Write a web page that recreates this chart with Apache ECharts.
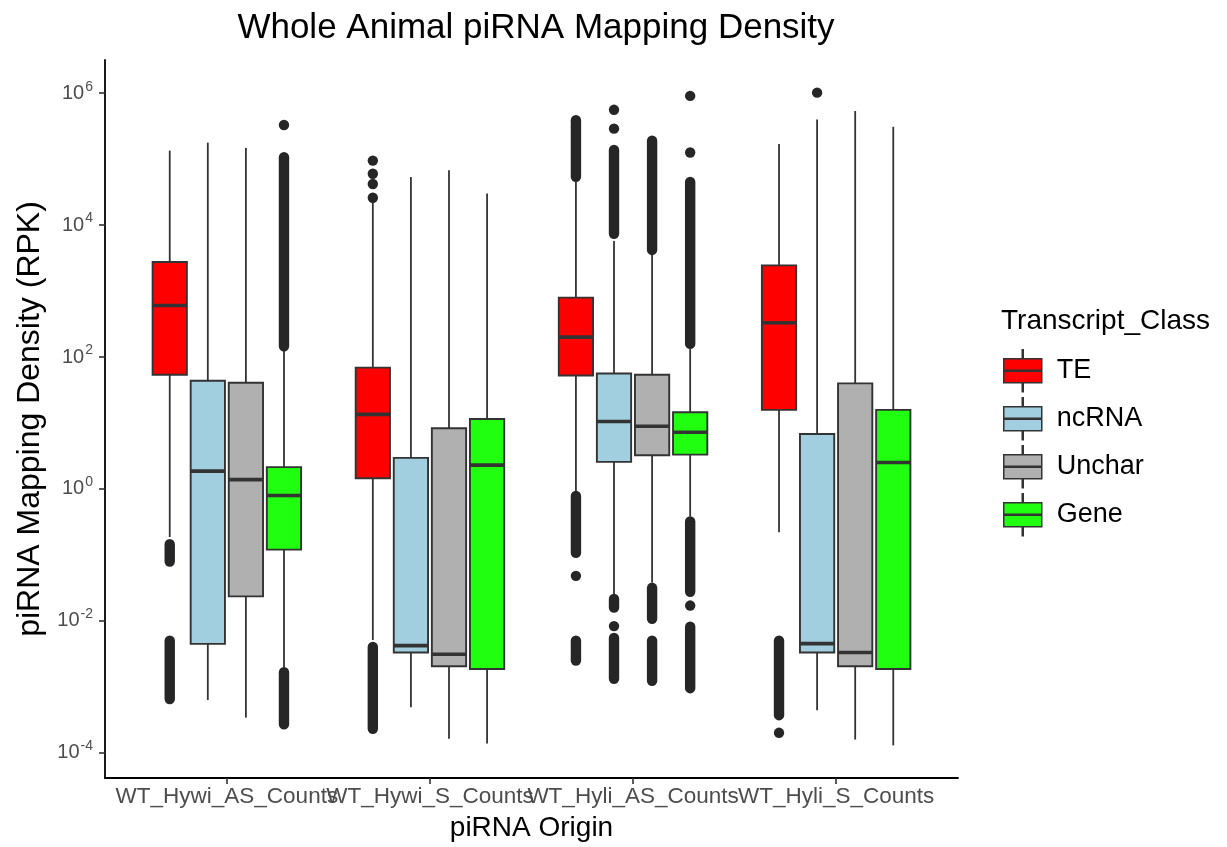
<!DOCTYPE html>
<html>
<head>
<meta charset="utf-8">
<title>Whole Animal piRNA Mapping Density</title>
<script src="https://cdn.jsdelivr.net/npm/echarts@6/dist/echarts.min.js"></script>
<style>
  html, body { margin: 0; background: #fff; }
  #chart { width: 1227px; height: 847px; }
</style>
</head>
<body>
<div id="chart"></div>
<script>
// piRNA origin (x categories) and transcript classes (fill)
var categories = ['WT_Hywi_AS_Counts', 'WT_Hywi_S_Counts', 'WT_Hyli_AS_Counts', 'WT_Hyli_S_Counts'];
var classNames = ['TE', 'ncRNA', 'Unchar', 'Gene'];
var yTickValues = [1e-4, 1e-2, 1, 1e2, 1e4, 1e6];

// box stats in RPK, one row per category: [lower whisker, Q1, median, Q3, upper whisker]
var teStats = [
  [0.186, 53.7, 603, 2750, 1.35e5],
  [5.1e-3, 1.45, 13.5, 69, 2.24e4],
  [0.93, 52.5, 200, 794, 4.57e4],
  [0.219, 15.8, 331, 2450, 1.7e5]
];
var ncrnaStats = [
  [6.3e-4, 4.47e-3, 1.86, 43.6, 1.78e5],
  [4.9e-4, 3.3e-3, 4.2e-3, 2.95, 5.37e4],
  [0.0251, 2.57, 10.5, 56.2, 5750],
  [4.4e-4, 3.3e-3, 4.5e-3, 6.8, 3.98e5]
];
var uncharStats = [
  [3.4e-4, 0.0234, 1.38, 40.7, 1.48e5],
  [1.62e-4, 2.04e-3, 3.1e-3, 8.3, 6.76e4],
  [0.038, 3.24, 8.9, 53.7, 3550],
  [1.58e-4, 2.04e-3, 3.3e-3, 39.8, 5.37e5]
];
var geneStats = [
  [1.95e-3, 0.12, 0.794, 2.14, 123],
  [1.38e-4, 1.86e-3, 2.29, 11.5, 3.02e4],
  [0.38, 3.31, 7.24, 14.5, 132],
  [1.29e-4, 1.86e-3, 2.51, 15.8, 3.09e5]
];

// single outliers: [category index, RPK]
var teOutliers = [[1, 9.5e4], [1, 6.0e4], [1, 4.2e4], [1, 2.6e4], [2, 0.048], [3, 2.0e-4]];
var ncrnaOutliers = [[2, 5.6e5], [2, 2.9e5], [2, 8.3e-3], [3, 1.02e6]];
var uncharOutliers = [];
var geneOutliers = [[0, 3.3e5], [2, 9.1e5], [2, 1.26e5], [2, 0.017]];

// stacks of overlapping outliers: [category index, top RPK, bottom RPK]
var teOutlierRuns = [[0, 0.145, 0.079], [0, 5.0e-3, 6.5e-4], [1, 4.0e-3, 2.3e-4], [2, 3.9e5, 5.4e4],
  [2, 0.78, 0.107], [2, 5.0e-3, 2.5e-3], [3, 5.0e-3, 3.7e-4]];
var ncrnaOutlierRuns = [[2, 1.38e5, 7.4e3], [2, 0.0214, 0.0158], [2, 5.5e-3, 1.32e-3]];
var uncharOutlierRuns = [[2, 1.9e5, 4.2e3], [2, 0.0316, 0.0107], [2, 5.0e-3, 1.23e-3]];
var geneOutlierRuns = [[0, 1.07e5, 145], [0, 1.66e-3, 2.7e-4], [2, 4.5e4, 158], [2, 0.32, 0.0275], [2, 8.1e-3, 9.5e-4]];

var classColors = ['#ff0000', '#a1cfe0', '#b0b0b0', '#1fff0f'];
var allStats = [teStats, ncrnaStats, uncharStats, geneStats];
var allOutliers = [teOutliers, ncrnaOutliers, uncharOutliers, geneOutliers];
var allRuns = [teOutlierRuns, ncrnaOutlierRuns, uncharOutlierRuns, geneOutlierRuns];

var FONT = '"Liberation Sans", Arial, Helvetica, sans-serif';
var INK = '#333333';
var DODGE = 0.75;

// y is drawn on log10 values, ggplot-style 5% expansion of the data range
var logs = [];
allStats.forEach(function (s) { s.forEach(function (r) { r.forEach(function (v) { logs.push(Math.log10(v)); }); }); });
allOutliers.forEach(function (s) { s.forEach(function (r) { logs.push(Math.log10(r[1])); }); });
allRuns.forEach(function (s) { s.forEach(function (r) { logs.push(Math.log10(r[1]), Math.log10(r[2])); }); });
var lo = Math.min.apply(null, logs), hi = Math.max.apply(null, logs);
var pad = (hi - lo) * 0.05;

function slotX(api, x, k) {
  var unit = api.size([1, 0])[0];
  var slot = unit * DODGE / classNames.length;
  return { cx: api.coord([x, 0])[0] + (k - (classNames.length - 1) / 2) * slot, slot: slot };
}

function boxRenderer(k) {
  return function (params, api) {
    var x = api.value(0);
    var s = slotX(api, x, k);
    var half = s.slot * 0.9 / 2;
    var y = function (i) { return api.coord([x, api.value(i)])[1]; };
    var yMin = y(1), yQ1 = y(2), yMed = y(3), yQ3 = y(4), yMax = y(5);
    var line = { stroke: INK, lineWidth: 1.8 };
    return {
      type: 'group',
      children: [
        { type: 'line', shape: { x1: s.cx, y1: yMax, x2: s.cx, y2: yQ3 }, style: line },
        { type: 'line', shape: { x1: s.cx, y1: yQ1, x2: s.cx, y2: yMin }, style: line },
        { type: 'rect', shape: { x: s.cx - half, y: yQ3, width: half * 2, height: yQ1 - yQ3 },
          style: { fill: classColors[k], stroke: INK, lineWidth: 1.9 } },
        { type: 'line', shape: { x1: s.cx - half, y1: yMed, x2: s.cx + half, y2: yMed },
          style: { stroke: INK, lineWidth: 3.6 } }
      ]
    };
  };
}

function outlierRenderer(k) {
  return function (params, api) {
    var x = api.value(0);
    var s = slotX(api, x, k);
    var yTop = api.coord([x, api.value(1)])[1];
    var yBot = api.coord([x, api.value(2)])[1];
    if (Math.abs(yBot - yTop) < 0.5) {
      return { type: 'circle', shape: { cx: s.cx, cy: yTop, r: 5.2 }, style: { fill: '#262626' } };
    }
    return {
      type: 'line',
      shape: { x1: s.cx, y1: yTop, x2: s.cx, y2: yBot },
      style: { stroke: '#262626', lineWidth: 10.4, lineCap: 'round' }
    };
  };
}

var series = [];
classNames.forEach(function (name, k) {
  series.push({
    name: name,
    type: 'custom',
    itemStyle: { color: classColors[k] },
    renderItem: boxRenderer(k),
    encode: { x: 0, y: [1, 2, 3, 4, 5] },
    data: allStats[k].map(function (r, i) {
      return [i + 1].concat(r.map(function (v) { return Math.log10(v); }));
    }),
    z: 2
  });
});
classNames.forEach(function (name, k) {
  var pts = allOutliers[k].map(function (r) {
    return [r[0] + 1, Math.log10(r[1]), Math.log10(r[1])];
  }).concat(allRuns[k].map(function (r) {
    return [r[0] + 1, Math.log10(r[1]), Math.log10(r[2])];
  }));
  series.push({
    name: name + ' outliers',
    type: 'custom',
    renderItem: outlierRenderer(k),
    encode: { x: 0, y: [1, 2] },
    data: pts,
    z: 3
  });
});

// the category labels overlap each other as in the original, so odd and even
// ones go on two stacked bottom axes (an axis hides its own overlapping labels)
function catLabels(ticks) {
  return {
    customValues: ticks,
    showMinLabel: true,
    showMaxLabel: true,
    margin: 7,
    fontFamily: FONT, fontSize: 22.5, color: '#4d4d4d',
    formatter: function (v) { return categories[Math.round(v) - 1]; }
  };
}

var chart = echarts.init(document.getElementById('chart'));
chart.setOption({
  backgroundColor: '#fff',
  animation: false,
  title: [
    { text: 'Whole Animal piRNA Mapping Density', left: 531, top: 6, textAlign: 'center',
      textStyle: { fontFamily: FONT, fontSize: 35, fontWeight: 'normal', color: '#000' } },
    { text: 'Transcript_Class', left: 996, top: 302,
      textStyle: { fontFamily: FONT, fontSize: 28, fontWeight: 'normal', color: '#000' } }
  ],
  legend: {
    data: classNames,
    orient: 'vertical',
    left: 998,
    top: 344,
    itemWidth: 38,
    itemHeight: 42,
    itemGap: 4.5,
    icon: 'path://M19.5,0H20.5V9H19.5Z M1,9H39V33H1Z M2,20.5V21.5H38V20.5Z M19.5,33H20.5V42H19.5Z',
    itemStyle: { borderColor: INK, borderWidth: 1.5 },
    textStyle: { fontFamily: FONT, fontSize: 27, color: '#000', padding: [0, 0, 0, 10] }
  },
  grid: { left: 105, right: 269, top: 60, bottom: 69, containLabel: false },
  xAxis: [
    {
      type: 'value',
      position: 'bottom',
      min: 0.4,
      max: 4.6,
      name: 'piRNA Origin',
      nameLocation: 'middle',
      nameGap: 36,
      nameTextStyle: { fontFamily: FONT, fontSize: 28, color: '#000' },
      axisLine: { show: true, onZero: false, lineStyle: { color: '#000', width: 1.8 } },
      axisTick: { show: true, length: 6, customValues: [1, 2, 3, 4], lineStyle: { color: INK, width: 1.6 } },
      axisLabel: catLabels([1, 3]),
      splitLine: { show: false }
    },
    {
      type: 'value',
      position: 'bottom',
      offset: 0,
      min: 0.4,
      max: 4.6,
      axisLine: { show: false, onZero: false },
      axisTick: { show: false },
      axisLabel: catLabels([2, 4]),
      splitLine: { show: false }
    }
  ],
  yAxis: {
    type: 'value',
    min: lo - pad,
    max: hi + pad,
    name: 'piRNA Mapping Density (RPK)',
    nameLocation: 'middle',
    nameGap: 57,
    nameRotate: 90,
    nameTextStyle: { fontFamily: FONT, fontSize: 32, color: '#000' },
    axisLine: { show: true, onZero: false, lineStyle: { color: '#000', width: 1.8 } },
    axisTick: { show: true, length: 6, customValues: yTickValues.map(Math.log10), lineStyle: { color: INK, width: 1.6 } },
    axisLabel: {
      customValues: yTickValues.map(Math.log10),
      showMinLabel: true,
      showMaxLabel: true,
      margin: 12,
      formatter: function (v) { return '{b|10}{s|' + Math.round(v) + '}'; },
      rich: {
        b: { fontFamily: FONT, fontSize: 20, color: '#4d4d4d' },
        s: { fontFamily: FONT, fontSize: 14, color: '#4d4d4d', padding: [0, 0, 13, 1] }
      }
    },
    splitLine: { show: false }
  },
  series: series
});
</script>
</body>
</html>
